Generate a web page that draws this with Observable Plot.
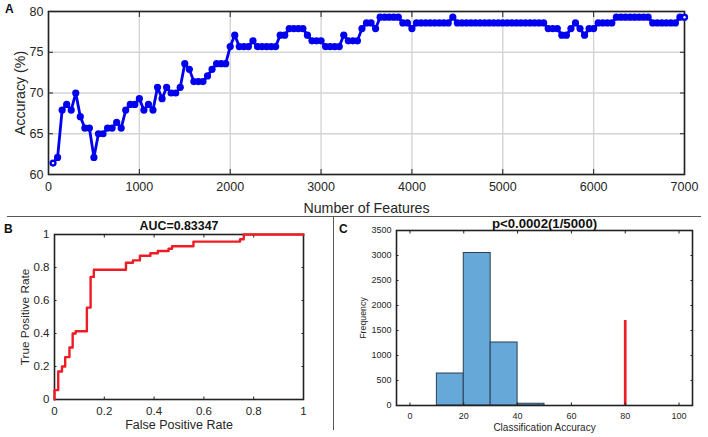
<!DOCTYPE html>
<html>
<head>
<meta charset="utf-8">
<script src="https://cdn.jsdelivr.net/npm/d3@7"></script>
<script src="https://cdn.jsdelivr.net/npm/@observablehq/plot@0.6"></script>
<style>
html,body{margin:0;padding:0;background:#fff;overflow:hidden}
#root{position:relative;width:708px;height:437px;font-family:"Liberation Sans",Arial,sans-serif}
#root svg{position:absolute;background:transparent;font-family:"Liberation Sans",Arial,sans-serif}
.sep{position:absolute;background:#555}
.tag{position:absolute;font:bold 12px "Liberation Sans",Arial,sans-serif;color:#111}
</style>
</head>
<body>
<div id="root"></div>
<script>
// Panel A: accuracy against number of features (one value every 50 features)
const featureCounts = d3.range(50, 7001, 50);
const accuracy = [
61.4,62.1,67.9,68.6,67.9,70,67.1,65.7,65.7,62.1,
65,65,65.7,65.7,66.4,65.7,67.9,68.6,68.6,69.3,
67.9,68.6,67.9,70.7,69.3,70.7,70,70,70.7,73.6,
72.9,71.4,71.4,71.4,72.1,72.9,73.6,73.6,73.6,75.7,
77.1,75.7,75.7,75.7,76.4,75.7,75.7,75.7,75.7,75.7,
77.1,77.1,77.9,77.9,77.9,77.9,77.1,76.4,76.4,76.4,
75.7,75.7,75.7,75.7,77.1,76.4,76.4,76.4,77.9,78.6,
78.6,77.9,79.3,79.3,79.3,79.3,79.3,78.6,78.6,77.9,
78.6,78.6,78.6,78.6,78.6,78.6,78.6,78.6,79.3,78.6,
78.6,78.6,78.6,78.6,78.6,78.6,78.6,78.6,78.6,78.6,
78.6,78.6,78.6,78.6,78.6,78.6,78.6,78.6,78.6,77.9,
77.9,77.9,77.1,77.1,77.9,78.6,77.9,77.1,77.9,77.9,
78.6,78.6,78.6,78.6,79.3,79.3,79.3,79.3,79.3,79.3,
79.3,79.3,78.6,78.6,78.6,78.6,78.6,78.6,79.3,79.3];

// Panel B: ROC curve vertices
const rocFpr = [0,0,0.015,0.03,0.043,0.06,0.073,0.085,0.13,0.145,0.158,0.287,0.315,0.343,0.385,0.415,0.458,0.472,0.558,0.745,0.76,1];
const rocTpr = [0,0.057,0.17,0.2,0.257,0.315,0.4,0.414,0.557,0.743,0.786,0.829,0.843,0.871,0.886,0.9,0.914,0.929,0.957,0.971,1,1];

// Panel C: permutation histogram
const binStart = [10,20,30,40];
const binEnd = [20,30,40,50];
const binCount = [640,3050,1260,35];
const observedAccuracy = 80;
const observedHeight = 1700;

const ticksA = {x:[0,1000,2000,3000,4000,5000,6000,7000], y:[60,65,70,75,80]};
const ticksB = [0,0.2,0.4,0.6,0.8,1];
const ticksCx = [0,20,40,60,80,100];
const ticksCy = [0,500,1000,1500,2000,2500,3000,3500];

const ink = "#262626";
const root = document.getElementById("root");

function frameMarks(xT, yT, len, color){
  // inward tick marks on all four sides, then the box
  return [
    Plot.axisX(xT,{anchor:"bottom",tickSize:-len,label:null,tickFormat:()=>"",stroke:color}),
    Plot.axisX(xT,{anchor:"top",tickSize:-len,label:null,tickFormat:()=>"",stroke:color}),
    Plot.axisY(yT,{anchor:"left",tickSize:-len,label:null,tickFormat:()=>"",stroke:color}),
    Plot.axisY(yT,{anchor:"right",tickSize:-len,label:null,tickFormat:()=>"",stroke:color}),
    Plot.frame({stroke:"#222",strokeWidth:1.6})
  ];
}
function labelMarks(xT,yT,o){
  return [
    Plot.axisX(xT,{anchor:"bottom",tickSize:0,tickPadding:o.xPad,label:null,fontSize:o.tick,fill:ink,tickFormat:d=>String(d)}),
    Plot.axisY(yT,{anchor:"left",tickSize:0,tickPadding:o.yPad,label:null,fontSize:o.tick,fill:ink,tickFormat:d=>String(d)}),
    Plot.text([o.xLabel],{frameAnchor:"bottom",dy:o.xDy,fontSize:o.lab,fill:ink,lineAnchor:"middle"}),
    Plot.text([o.yLabel],{frameAnchor:"left",dx:o.yDx,rotate:-90,textAnchor:"middle",fontSize:o.labY||o.lab,fill:ink})
  ];
}
function place(svg,left,top){svg.style.left=left+"px";svg.style.top=top+"px";root.appendChild(svg);}

// A
place(Plot.plot({
  width:708,height:216,marginLeft:48,marginRight:24,marginTop:11,marginBottom:42,
  x:{domain:[0,7000],axis:null},y:{domain:[60,80],axis:null},
  marks:[
    Plot.ruleX(ticksA.x,{stroke:"#d4d4d4",strokeWidth:1.4}),
    Plot.ruleY(ticksA.y,{stroke:"#d4d4d4",strokeWidth:1.4}),
    ...frameMarks(ticksA.x,ticksA.y,5,"#222"),
    ...labelMarks(ticksA.x,ticksA.y,{xPad:8,yPad:5,tick:12.5,lab:14.2,xLabel:"Number of Features",yLabel:"Accuracy (%)",xDy:34,yDx:-28}),
    Plot.line(featureCounts,{x:d=>d,y:(d,i)=>accuracy[i],stroke:"#0000ee",strokeWidth:2.8}),
    Plot.dot(featureCounts,{x:d=>d,y:(d,i)=>accuracy[i],r:3.6,fill:"#0000ee"}),
    Plot.dot([0,accuracy.length-1],{x:i=>featureCounts[i],y:i=>accuracy[i],r:1.2,fill:"#fff"})
  ]
}),0,0);

// B
place(Plot.plot({
  width:333,height:221,marginLeft:54,marginRight:30,marginTop:18,marginBottom:38,
  x:{domain:[0,1],axis:null},y:{domain:[0,1],axis:null},
  marks:[
    ...frameMarks(ticksB,ticksB,2.5,"#222"),
    ...labelMarks(ticksB,ticksB,{xPad:7,yPad:5,tick:11.5,lab:12.5,labY:11.8,xLabel:"False Positive Rate",yLabel:"True Positive Rate",xDy:25,yDx:-29}),
    Plot.line(rocFpr,{x:d=>d,y:(d,i)=>rocTpr[i],curve:"step-after",stroke:"#ee1c25",strokeWidth:2.4}),
    Plot.text(["AUC=0.83347"],{frameAnchor:"top",lineAnchor:"middle",dy:-8,fontSize:12.4,fontWeight:"bold",fill:"#111"})
  ]
}),0,216);

// C
place(Plot.plot({
  width:375,height:221,marginLeft:63,marginRight:16,marginTop:14,marginBottom:32,
  x:{domain:[-5,105],axis:null},y:{domain:[0,3500],axis:null},
  marks:[
    Plot.rect(binCount,{x1:(d,i)=>binStart[i],x2:(d,i)=>binEnd[i],y1:0,y2:d=>d,fill:"#66a9d8",stroke:"#2b3f52",strokeWidth:1}),
    Plot.ruleX([observedAccuracy],{y1:0,y2:observedHeight,stroke:"#ee1c25",strokeWidth:2.7}),
    ...frameMarks(ticksCx,ticksCy,2.5,"#222"),
    ...labelMarks(ticksCx,ticksCy,{xPad:7,yPad:5,tick:9,lab:10,labY:8.8,xLabel:"Classification Accuracy",yLabel:"Frequency",xDy:22,yDx:-33}),
    Plot.text(["p<0.0002(1/5000)"],{frameAnchor:"top",lineAnchor:"middle",dy:-7,fontSize:13.2,fontWeight:"bold",fill:"#111"})
  ]
}),333,216);

// separators and panel letters
[[7,216,694,1],[333,216,1,214]].forEach(([l,t,w,h])=>{
  const d=document.createElement("div");d.className="sep";
  d.style.cssText=`left:${l}px;top:${t}px;width:${w}px;height:${h}px`;root.appendChild(d);
});
[["A",5,2],["B",4,222],["C",339,222]].forEach(([s,l,t])=>{
  const d=document.createElement("div");d.className="tag";d.textContent=s;
  d.style.left=l+"px";d.style.top=t+"px";root.appendChild(d);
});
</script>
</body>
</html>
